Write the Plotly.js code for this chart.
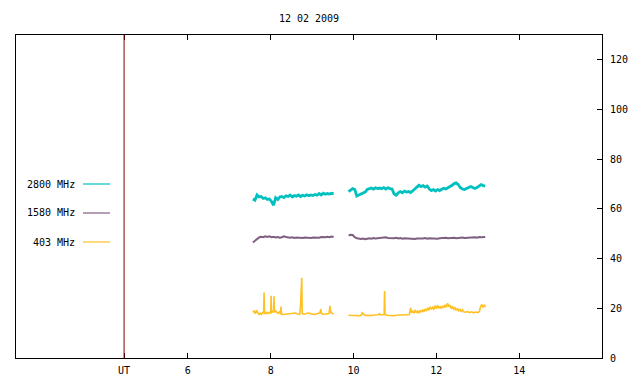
<!DOCTYPE html>
<html>
<head>
<meta charset="utf-8">
<script src="https://cdn.plot.ly/plotly-3.0.1.min.js"></script>
<style>html,body{margin:0;padding:0;background:#fff;}#chart{width:640px;height:384px;}</style>
</head>
<body>
<div id="chart"></div>
<script>
// ---- data (hours UT, flux) ----
const seriesNames = ['2800 MHz', '1580 MHz', '403 MHz'];
const seriesColors = ['#00c0c0', '#7f5f80', '#ffc020'];
const utMark = 4.46;
const tickVals = [4.46, 6, 8, 10, 12, 14];
const tickText = ['UT', '6', '8', '10', '12', '14'];

const tGrid = [7.57,7.62,7.67,7.72,7.77,7.82,7.87,7.92,7.97,8.02,8.07,8.12,8.17,8.22,8.27,8.32,8.37,8.42,8.47,8.52,
  8.57,8.62,8.67,8.72,8.77,8.82,8.87,8.92,8.97,9.02,9.07,9.12,9.17,9.22,9.27,9.32,9.37,9.42,9.47,9.52,null,
  9.88,9.93,9.98,10.03,10.08,10.13,10.18,10.23,10.28,10.33,10.38,10.43,10.48,10.53,10.58,10.63,10.68,10.73,10.78,10.83,
  10.88,10.93,10.98,11.03,11.08,11.13,11.18,11.23,11.28,11.33,11.38,11.43,11.48,11.53,11.58,11.63,11.68,11.73,11.78,11.83,
  11.88,11.93,11.98,12.03,12.08,12.13,12.18,12.23,12.28,12.33,12.38,12.43,12.48,12.53,12.58,12.63,12.68,12.73,12.78,12.83,
  12.88,12.93,12.98,13.03,13.08,13.13,13.18];

const flux2800 = [64.0,63.5,65.6,64.8,65.0,64.2,64.5,63.8,64.0,63.0,61.5,64.5,63.8,64.8,65.0,64.6,65.3,65.0,65.6,64.8,
  65.4,65.1,65.6,65.0,65.5,65.2,65.7,65.3,65.6,65.4,65.8,65.5,66.2,65.6,66.3,65.9,66.2,66.0,66.3,66.1,null,
  67.0,67.5,68.2,67.8,65.2,65.6,66.0,66.3,66.8,67.8,68.0,68.4,68.0,68.5,68.2,68.4,68.1,68.6,68.0,68.5,
  68.2,68.0,66.0,65.5,66.5,67.0,66.5,67.2,66.8,67.0,66.6,67.5,68.0,68.8,69.5,69.0,69.4,68.8,69.2,68.0,
  67.4,67.8,67.2,67.8,67.4,67.9,68.3,68.0,68.5,68.8,69.5,70.2,70.5,69.8,68.5,68.0,67.8,68.2,68.5,69.0,
  68.6,68.2,68.6,69.2,69.8,69.4,69.2];

const flux1580 = [46.5,47.2,48.0,48.5,48.8,48.6,49.0,48.7,49.0,48.6,48.8,48.5,48.7,48.4,48.6,49.0,48.7,48.5,48.4,48.6,
  48.3,48.5,48.4,48.6,48.3,48.5,48.4,48.6,48.3,48.5,48.4,48.6,48.4,48.7,48.5,48.6,48.8,48.6,48.9,48.7,null,
  49.3,49.6,49.5,48.6,48.2,48.0,47.9,48.1,47.8,48.0,48.2,48.0,48.3,48.1,48.2,48.0,48.3,48.2,48.6,48.3,
  48.2,48.0,48.2,48.4,48.1,48.3,48.0,48.2,48.1,48.3,48.2,48.0,47.9,48.1,48.0,48.2,48.1,48.3,48.0,48.2,
  48.1,48.3,48.2,48.0,48.2,48.3,48.1,48.4,48.2,48.3,48.2,48.4,48.2,48.4,48.3,48.5,48.3,48.4,48.6,48.4,
  48.5,48.6,48.4,48.7,48.6,48.8,48.7];

const t403 = [7.57,7.60,7.63,7.66,7.69,7.72,7.75,7.78,7.81,7.83,7.84,7.85,7.88,7.91,7.94,7.97,8.00,8.01,8.02,8.05,
  8.07,8.08,8.09,8.12,8.15,8.18,8.21,8.24,8.25,8.26,8.30,8.35,8.40,8.45,8.50,8.55,8.60,8.65,8.70,8.72,
  8.73,8.75,8.76,8.80,8.85,8.90,8.95,9.00,9.05,9.10,9.15,9.19,9.21,9.23,9.28,9.33,9.38,9.41,9.43,9.45,
  9.49,9.52,null,
  9.88,9.93,9.98,10.03,10.08,10.13,10.18,10.21,10.24,10.29,10.34,10.39,10.44,10.49,10.54,10.59,10.63,10.66,10.70,10.74,
  10.75,10.76,10.80,10.85,10.90,10.95,11.00,11.05,11.10,11.15,11.20,11.25,11.30,11.35,11.38,11.40,11.43,11.46,11.49,11.52,
  11.55,11.58,11.61,11.64,11.67,11.70,11.73,11.76,11.79,11.82,11.85,11.88,11.91,11.94,11.97,12.00,12.03,12.06,12.09,12.12,
  12.15,12.18,12.21,12.24,12.27,12.30,12.33,12.36,12.39,12.42,12.45,12.48,12.51,12.54,12.57,12.60,12.63,12.66,12.70,12.75,
  12.80,12.85,12.90,12.95,13.00,13.04,13.07,13.10,13.13,13.16,13.19];

const flux403 = [18.5,18.9,17.8,19.2,18.2,17.5,18.0,17.6,18.3,18.0,26.4,18.2,17.8,18.4,17.9,18.3,18.1,25.0,18.3,18.8,
  18.5,24.8,18.6,18.9,18.4,18.0,18.6,17.8,20.7,17.6,17.5,17.6,17.5,17.8,17.6,17.9,18.1,17.7,17.6,21.0,
  23.4,32.3,18.0,17.6,17.8,18.1,17.9,17.6,17.5,17.7,17.9,18.2,19.7,17.8,17.6,17.6,17.7,17.9,21.0,18.5,
  17.8,18.0,null,
  17.2,17.1,17.3,17.0,17.1,17.0,17.1,18.2,17.6,17.1,17.2,17.0,17.1,17.3,17.2,17.4,17.8,17.3,17.4,17.5,
  27.0,17.6,17.2,17.0,17.1,17.0,17.2,17.3,17.3,17.3,17.4,17.4,17.4,17.5,20.2,18.2,19.0,18.0,19.3,18.2,
  18.9,18.0,19.2,18.4,19.5,18.6,19.8,18.9,20.2,19.2,20.6,19.6,20.4,19.5,21.0,19.8,21.2,20.0,20.8,19.8,
  21.0,20.2,21.4,20.4,22.0,20.6,21.2,19.8,20.8,19.6,20.2,19.2,20.0,19.0,19.6,18.8,19.4,18.6,18.4,18.7,
  18.3,18.6,18.2,18.5,18.3,18.8,20.8,21.5,20.4,21.2,20.6];

const xRange = [1.85, 16];
const yRange = [0, 130];
const yTicks = [0, 20, 40, 60, 80, 100, 120];

// ---- chart ----
const font = {family: 'DejaVu Sans Mono, monospace', size: 10, color: '#000'};
const traces = [
  {x: tGrid, y: flux2800, mode: 'lines', line: {color: seriesColors[0], width: 2.8}, connectgaps: false, name: seriesNames[0]},
  {x: tGrid, y: flux1580, mode: 'lines', line: {color: seriesColors[1], width: 2}, connectgaps: false, name: seriesNames[1]},
  {x: t403, y: flux403, mode: 'lines', line: {color: seriesColors[2], width: 1.6}, connectgaps: false, name: seriesNames[2]}
];

const L = 16, R = 602, T = 35, B = 358;
const px = v => (v - L) / (R - L);
const py = v => (B - v) / (B - T);
const legendY = [184, 213, 242];
const annotations = seriesNames.map((n, i) => ({
  xref: 'paper', yref: 'paper', x: px(77), y: py(legendY[i]), xanchor: 'right', yanchor: 'middle',
  text: n, showarrow: false, font: font
}));
const shapes = seriesNames.map((n, i) => ({
  type: 'line', xref: 'paper', yref: 'paper', x0: px(83), x1: px(110), y0: py(legendY[i]), y1: py(legendY[i]),
  line: {color: seriesColors[i], width: 1.2}
}));
shapes.push({type: 'line', xref: 'x', yref: 'paper', x0: utMark, x1: utMark, y0: 0, y1: 1,
  line: {color: '#8b0000', width: 1}, layer: 'above'});

const layout = {
  width: 640, height: 384,
  margin: {l: L, r: 640 - R, t: T, b: 384 - B, pad: 0},
  paper_bgcolor: '#fff', plot_bgcolor: '#fff',
  font: font,
  showlegend: false,
  title: {text: '12 02 2009', font: font, x: 0.5, xref: 'paper', y: 1 - 18 / 384, yref: 'container', yanchor: 'middle'},
  xaxis: {range: xRange, tickvals: tickVals, ticktext: tickText, ticks: 'inside', ticklen: 5, tickcolor: '#000',
    showline: true, linecolor: '#000', linewidth: 1, mirror: 'ticks', showgrid: false, zeroline: false,
    tickfont: font, ticklabelstandoff: 3, fixedrange: true},
  yaxis: {range: yRange, tickvals: yTicks, side: 'right', ticks: 'inside', ticklen: 5, tickcolor: '#000',
    showline: true, linecolor: '#000', linewidth: 1, mirror: true, showgrid: false, zeroline: false,
    tickfont: font, ticklabelstandoff: 5, fixedrange: true},
  annotations: annotations,
  shapes: shapes
};

Plotly.newPlot('chart', traces, layout, {displayModeBar: false, staticPlot: true});
</script>
</body>
</html>
